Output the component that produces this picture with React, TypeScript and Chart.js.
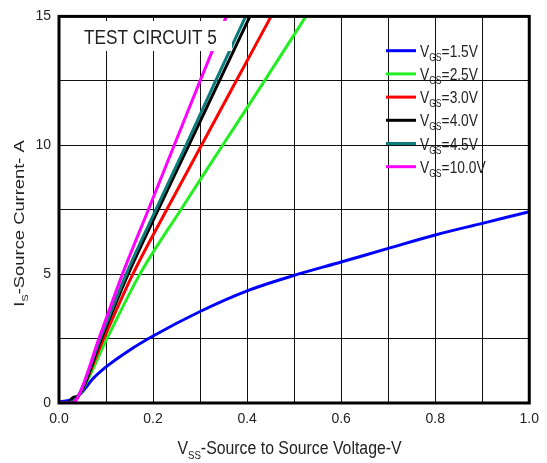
import React, { useEffect, useRef } from "react";
import { Chart, registerables } from "chart.js";

Chart.register(...registerables);

// ---- Data ----
const seriesLabels = ["1.5V", "2.5V", "3.0V", "4.0V", "4.5V", "10.0V"];
const seriesColors = ["#0000ff", "#22ee22", "#ff0000", "#000000", "#0b7b7b", "#ff00ff"];

const vgs15X = [0, 0.02, 0.04, 0.055, 0.07, 0.1, 0.15, 0.2, 0.3, 0.4, 0.5, 0.6, 0.7, 0.8, 0.9, 1.0];
const vgs15Y = [0.05, 0.1, 0.25, 0.55, 0.9, 1.4, 2.05, 2.6, 3.55, 4.35, 4.95, 5.47, 6.0, 6.52, 6.97, 7.42];

const vgs25X = [0, 0.02, 0.038, 0.102, 0.172, 0.259, 0.348, 0.437, 0.525];
const vgs25Y = [0, 0.02, 0.18, 2.5, 5, 7.5, 10, 12.5, 15];

const vgs30X = [0, 0.02, 0.038, 0.095, 0.157, 0.229, 0.303, 0.377, 0.451];
const vgs30Y = [0, 0.02, 0.18, 2.5, 5, 7.5, 10, 12.5, 15];

const vgs40X = [0, 0.02, 0.03, 0.038, 0.090, 0.147, 0.211, 0.276, 0.341, 0.406];
const vgs40Y = [0, 0.03, 0.22, 0.25, 2.5, 5, 7.5, 10, 12.5, 15];

const vgs45X = [0, 0.02, 0.038, 0.088, 0.143, 0.206, 0.270, 0.333, 0.397];
const vgs45Y = [0, 0.02, 0.18, 2.5, 5, 7.5, 10, 12.5, 15];

const vgs100X = [0, 0.025, 0.038, 0.085, 0.135, 0.190, 0.245, 0.300, 0.356];
const vgs100Y = [0, 0, 0.15, 2.5, 5, 7.5, 10, 12.5, 15];

const xTickValues = [0, 0.2, 0.4, 0.6, 0.8, 1.0];
const yTickValues = [0, 5, 10, 15];

const seriesX = [vgs15X, vgs25X, vgs30X, vgs40X, vgs45X, vgs100X];
const seriesY = [vgs15Y, vgs25Y, vgs30Y, vgs40Y, vgs45Y, vgs100Y];

const FONT = '"Liberation Sans", Arial, sans-serif';
const SQ = 0.86;

type Part = { text: string; size: number; dy: number };

function partsWidth(ctx: CanvasRenderingContext2D, parts: Part[]) {
  let w = 0;
  for (const p of parts) {
    ctx.font = `${p.size}px ${FONT}`;
    w += ctx.measureText(p.text).width;
  }
  return w;
}

function drawParts(ctx: CanvasRenderingContext2D, parts: Part[], x: number, y: number) {
  let cx = x;
  for (const p of parts) {
    ctx.font = `${p.size}px ${FONT}`;
    ctx.fillText(p.text, cx, y + p.dy);
    cx += ctx.measureText(p.text).width;
  }
}

const decorPlugin = {
  id: "decor",
  afterDatasetsDraw(chart: any) {
    const ctx: CanvasRenderingContext2D = chart.ctx;
    const a = chart.chartArea;
    ctx.save();
    // white box behind test circuit label
    ctx.fillStyle = "#ffffff";
    ctx.fillRect(a.left + 2, 21, 232 - a.left - 2, 30);
    // label
    ctx.fillStyle = "#222";
    ctx.textBaseline = "alphabetic";
    ctx.save();
    ctx.translate(84, 43.5);
    ctx.scale(SQ, 1);
    ctx.font = `20px ${FONT}`;
    ctx.fillText("TEST CIRCUIT 5", 0, 0);
    ctx.restore();

    // legend
    for (let i = 0; i < seriesLabels.length; i++) {
      const ly = 50.7 + i * 23.2;
      ctx.strokeStyle = seriesColors[i];
      ctx.lineWidth = 3;
      ctx.beginPath();
      ctx.moveTo(386, ly);
      ctx.lineTo(416, ly);
      ctx.stroke();
      ctx.fillStyle = "#222";
      ctx.save();
      ctx.translate(420, ly + 6);
      ctx.scale(SQ, 1);
      drawParts(ctx, [
        { text: "V", size: 16, dy: 0 },
        { text: "GS", size: 10, dy: 4 },
        { text: "=" + seriesLabels[i], size: 16, dy: 0 },
      ], 0, 0);
      ctx.restore();
    }

    // border box
    ctx.strokeStyle = "#000";
    ctx.lineWidth = 3;
    ctx.strokeRect(a.left, a.top, a.right - a.left, a.bottom - a.top);

    // x axis title
    const xParts: Part[] = [
      { text: "V", size: 18, dy: 0 },
      { text: "SS", size: 11, dy: 5 },
      { text: "-Source to Source Voltage-V", size: 18, dy: 0 },
    ];
    ctx.fillStyle = "#222";
    ctx.save();
    ctx.translate(289.5, 453.5);
    ctx.scale(0.88, 1);
    const xw = partsWidth(ctx, xParts);
    drawParts(ctx, xParts, -xw / 2, 0);
    ctx.restore();

    // y axis title
    const yParts: Part[] = [
      { text: "I", size: 18, dy: 0 },
      { text: "S", size: 11, dy: 5 },
      { text: "-Source Current- A", size: 18, dy: 0 },
    ];
    ctx.save();
    ctx.translate(24, 223.5);
    ctx.rotate(-Math.PI / 2);
    ctx.scale(1.02, SQ);
    const yw = partsWidth(ctx, yParts);
    drawParts(ctx, yParts, -yw / 2, 0);
    ctx.restore();

    ctx.restore();
  },
};

export default function App() {
  const ref = useRef<HTMLCanvasElement | null>(null);
  useEffect(() => {
    if (!ref.current) return;
    const datasets = seriesLabels.map((lab, i) => ({
      label: "VGS=" + lab,
      data: seriesX[i].map((x, j) => ({ x, y: seriesY[i][j] })),
      borderColor: seriesColors[i],
      backgroundColor: seriesColors[i],
      borderWidth: 3,
      pointRadius: 0,
      showLine: true,
      fill: false,
      cubicInterpolationMode: "monotone" as const,
      borderJoinStyle: "round" as const,
      order: i === 5 ? 0 : 10 - i,
    }));
    const chart = new Chart(ref.current, {
      type: "scatter",
      data: { datasets },
      options: {
        animation: false,
        responsive: false,
        maintainAspectRatio: false,
        layout: { padding: { left: 0, top: 15, right: 12, bottom: 0 } },
        plugins: { legend: { display: false }, tooltip: { enabled: false }, title: { display: false } },
        scales: {
          x: {
            type: "linear",
            min: 0,
            max: 1,
            border: { display: false },
            grid: { color: "#111", lineWidth: 1, drawTicks: false },
            ticks: {
              stepSize: 0.1,
              autoSkip: false,
              padding: 8,
              color: "#222",
              font: { family: FONT, size: 14 },
              maxRotation: 0,
              callback: (v: any) => {
                const n = Math.round(Number(v) * 10) / 10;
                return xTickValues.some((t) => Math.abs(t - n) < 1e-6) ? n.toFixed(1) : "";
              },
            },
            afterFit: (s: any) => { s.height = 60; },
          },
          y: {
            type: "linear",
            min: 0,
            max: 15,
            border: { display: false },
            grid: { color: "#111", lineWidth: 1, drawTicks: false },
            ticks: {
              stepSize: 2.5,
              autoSkip: false,
              padding: 8,
              color: "#222",
              font: { family: FONT, size: 14 },
              callback: (v: any) => {
                const n = Number(v);
                return yTickValues.includes(n) ? String(n) : "";
              },
            },
            afterFit: (s: any) => { s.width = 59; },
          },
        },
      },
      plugins: [decorPlugin],
    });
    return () => chart.destroy();
  }, []);
  return (
    <div style={{ position: "absolute", left: 0, top: 0, width: 547, height: 463, background: "#fff" }}>
      <canvas ref={ref} width={547} height={463} style={{ display: "block" }} />
    </div>
  );
}
